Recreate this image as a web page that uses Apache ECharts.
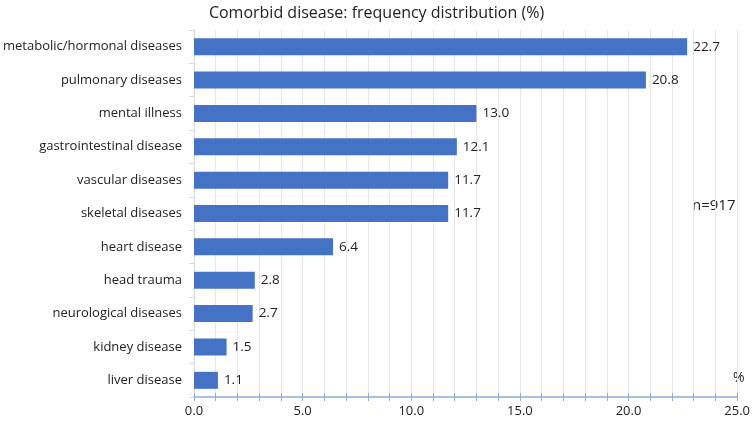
<!DOCTYPE html>
<html><head><meta charset="utf-8">
<script src="https://cdn.jsdelivr.net/npm/echarts@6/dist/echarts.min.js"></script>
<style>html,body{margin:0;padding:0;background:#fff}#c{width:753px;height:422px}</style>
</head><body><div id="c"></div>
<script>
const categories = ["metabolic/hormonal diseases","pulmonary diseases","mental illness","gastrointestinal disease","vascular diseases","skeletal diseases","heart disease","head trauma","neurological diseases","kidney disease","liver disease"];
const values = [22.7,20.8,13.0,12.1,11.7,11.7,6.4,2.8,2.7,1.5,1.1];
const titleText = "Comorbid disease: frequency distribution (%)";
const noteText = "n=917";
const unitText = "%";
const font = "'Open Sans', 'Liberation Sans', sans-serif";
const chart = echarts.init(document.getElementById('c'));
chart.setOption({
  animation:false,
  textStyle:{fontFamily:font},
  title:{text:titleText,left:'center',top:0,textStyle:{fontFamily:font,fontSize:16,fontWeight:'normal',color:'#222'}},
  grid:{left:192,right:14,top:30,bottom:25,containLabel:false},
  xAxis:[{
    type:'value',min:0,max:25,interval:1,
    axisLine:{show:true,lineStyle:{color:'#8FAADC',width:1.5}},
    axisTick:{show:true,length:4,lineStyle:{color:'#8FAADC',width:1}},
    axisLabel:{fontSize:13,color:'#222',margin:8,formatter:v=>(v%5===0?v.toFixed(1):'')},
    splitLine:{show:true,lineStyle:{color:'#e6e6e6',width:1}}
  },{
    type:'value',min:0,max:25,interval:1,position:'bottom',
    axisLine:{show:false},
    axisTick:{show:true,inside:true,length:4,lineStyle:{color:'#8FAADC',width:1}},
    axisLabel:{show:false},splitLine:{show:false}
  }],
  yAxis:{
    type:'category',data:categories,inverse:true,
    axisLine:{show:true,lineStyle:{color:'#d9d9d9'}},
    axisTick:{show:true,length:5,lineStyle:{color:'#d9d9d9'}},
    axisLabel:{fontSize:13,color:'#222',margin:12}
  },
  series:[{
    type:'bar',data:values,barWidth:17,xAxisIndex:0,
    itemStyle:{color:'#4472C4'},
    label:{show:true,position:'right',distance:6,fontSize:13.5,color:'#222',formatter:p=>p.value.toFixed(1)}
  }],
  graphic:[
    {type:'text',left:692,top:198,style:{text:noteText,fontSize:15,fontFamily:font,fill:'#222'}},
    {type:'text',left:733,top:371,style:{text:unitText,fontSize:14,fontFamily:font,fill:'#222'}}
  ]
});
</script></body></html>
